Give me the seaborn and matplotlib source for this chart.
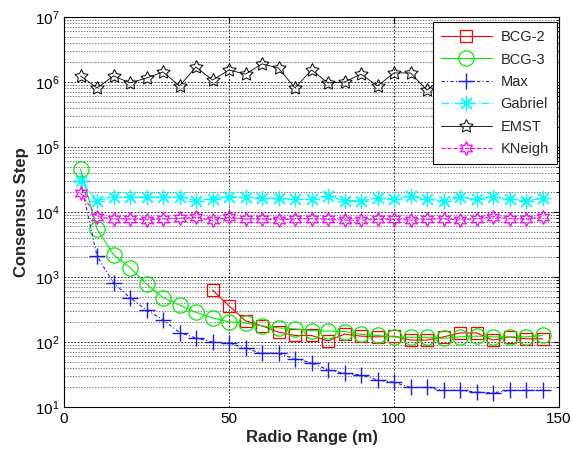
import numpy as np
import pandas as pd
import matplotlib
matplotlib.use("Agg")
import matplotlib.pyplot as plt
import seaborn as sns
from matplotlib.ticker import LogLocator, FixedLocator

# ---- data ----
radio_range = list(range(5, 150, 5))            # 5 .. 145
bcg2_range = list(range(45, 150, 5))            # 45 .. 145
bcg2 = [630, 360, 212, 177, 142, 126, 126, 104, 132, 123, 120, 123, 107, 107,
        120, 138, 138, 107, 120, 112, 112]
bcg3 = [4.6e4, 5.5e3, 2.2e3, 1.4e3, 780, 480, 370, 285, 235, 204, 196, 177, 165,
        159, 150, 147, 145, 131, 126, 120, 118, 118, 114, 120, 123, 120, 120, 120, 126]
max_s = [3.0e4, 2.1e3, 810, 480, 310, 220, 140, 115, 100, 96, 80, 67, 67, 55, 48,
         37, 33, 31, 26, 24, 20, 20, 18, 18, 17, 16.5, 18, 18, 18]
gabriel = [3.0e4, 1.5e4, 1.7e4, 1.7e4, 1.7e4, 1.7e4, 1.7e4, 1.5e4, 1.6e4, 1.73e4,
           1.7e4, 1.65e4, 1.62e4, 1.57e4, 1.57e4, 1.74e4, 1.5e4, 1.5e4, 1.62e4, 1.6e4,
           1.77e4, 1.57e4, 1.49e4, 1.68e4, 1.57e4, 1.72e4, 1.57e4, 1.49e4, 1.62e4]
emst = [1.24e6, 8.1e5, 1.24e6, 9.7e5, 1.15e6, 1.43e6, 8.7e5, 1.7e6, 1.07e6, 1.53e6,
        1.32e6, 1.9e6, 1.64e6, 8.1e5, 1.53e6, 9.7e5, 1.0e6, 1.32e6, 8.7e5, 1.38e6,
        1.38e6, 7.5e5, 1.2e6, 1.1e6, 1.4e6, 9.0e5, 1.3e6, 1.0e6, 1.2e6]
kneigh = [1.95e4, 8.5e3, 7.8e3, 7.8e3, 7.6e3, 7.8e3, 8.0e3, 8.3e3, 7.4e3, 8.3e3,
          7.8e3, 7.8e3, 7.6e3, 7.8e3, 7.9e3, 7.7e3, 7.5e3, 7.5e3, 7.7e3, 7.7e3,
          7.5e3, 7.7e3, 7.9e3, 7.5e3, 7.9e3, 8.5e3, 7.9e3, 7.7e3, 8.5e3]
x_ticks = [0, 50, 100, 150]

sns.set_style("white")
plt.rcParams['font.family'] = ['Liberation Sans', 'DejaVu Sans']
plt.rcParams['mathtext.fontset'] = 'custom'
plt.rcParams['mathtext.rm'] = 'Liberation Sans'
plt.rcParams['mathtext.it'] = 'Liberation Sans'

fig = plt.figure(figsize=(5.72, 4.53), dpi=100)
ax = fig.add_axes([64/572, 46/453, 495/572, 390/453])

df_main = pd.DataFrame({"x": radio_range, "BCG-3": bcg3, "Max": max_s,
                        "Gabriel": gabriel, "EMST": emst, "KNeigh": kneigh})
df_b2 = pd.DataFrame({"x": bcg2_range, "BCG-2": bcg2})

hex_star = (6, 1, 0)
pent_star = (5, 1, 0)
asterisk = (8, 2, 0)

specs = [
    (df_b2, "BCG-2", dict(color="red", linestyle="-", marker="s", markersize=9,
                          markerfacecolor="none", markeredgecolor="red",
                          markeredgewidth=0.9, linewidth=0.8)),
    (df_main, "BCG-3", dict(color="#00ee00", linestyle="-", marker="o", markersize=11,
                            markerfacecolor="none", markeredgecolor="#00ee00",
                            markeredgewidth=0.9, linewidth=0.8)),
    (df_main, "Max", dict(color="#1a1aee", linestyle=(0, (3, 2, 1, 2)), marker="+", markersize=11,
                          markeredgecolor="#1a1aee", markeredgewidth=1.0, linewidth=0.8)),
    (df_main, "Gabriel", dict(color="cyan", linestyle="-.", marker=asterisk, markersize=11,
                              markeredgecolor="cyan", markeredgewidth=0.9, linewidth=0.9)),
    (df_main, "EMST", dict(color="black", linestyle="-", marker=pent_star, markersize=10,
                           markerfacecolor="none", markeredgecolor="black",
                           markeredgewidth=0.7, linewidth=0.6)),
    (df_main, "KNeigh", dict(color="magenta", linestyle="--", marker=hex_star, markersize=10,
                             markerfacecolor="none", markeredgecolor="magenta",
                             markeredgewidth=0.9, linewidth=0.8)),
]

for d, col, kw in specs:
    sns.lineplot(data=d, x="x", y=col, ax=ax, label=col, estimator=None, sort=False, **kw)

ax.set_yscale("log")
ax.set_xlim(0, 150)
ax.set_ylim(10, 1e7)
ax.xaxis.set_major_locator(FixedLocator(x_ticks))
ax.yaxis.set_major_locator(LogLocator(base=10, numticks=10))
ax.yaxis.set_minor_locator(LogLocator(base=10, subs=np.arange(2, 10), numticks=20))

ax.grid(True, which="major", axis="both", color="black", linestyle=(0, (2, 2)), linewidth=0.6)
ax.grid(True, which="minor", axis="y", color="#444444", linestyle=(0, (2, 2)), linewidth=0.5)

for s in ax.spines.values():
    s.set_visible(True)
    s.set_color("black")
    s.set_linewidth(0.8)

ax.tick_params(axis="both", which="both", direction="in", top=True, right=True,
               labelsize=11, colors="black")
ax.tick_params(axis="both", which="major", length=4)
ax.tick_params(axis="y", which="minor", length=2)

ax.set_xlabel("Radio Range (m)", fontsize=12, fontweight="bold", labelpad=3)
ax.set_ylabel("Consensus Step", fontsize=12, fontweight="bold", labelpad=4)

leg = ax.legend(loc="upper right", bbox_to_anchor=(0.996, 0.987), fontsize=10.5,
                frameon=True, fancybox=False, edgecolor="black", framealpha=1,
                handlelength=3.5, borderaxespad=0.0, labelspacing=0.58,
                borderpad=0.55, handletextpad=0.6)
leg.get_frame().set_linewidth(0.8)
leg.set_zorder(10)

fig.savefig("out.png", dpi=100)
